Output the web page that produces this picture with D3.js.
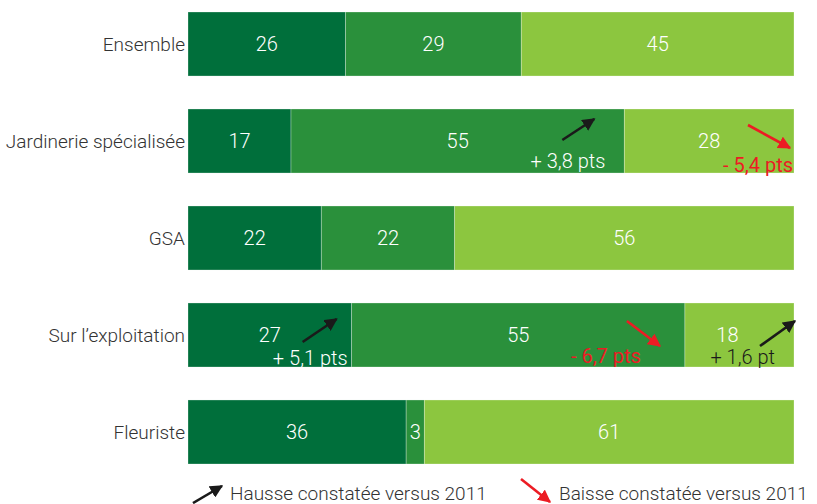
<!DOCTYPE html>
<html><head><meta charset="utf-8">
<script src="https://cdn.jsdelivr.net/npm/d3@7"></script>
<style>
body{margin:0;background:#fff;}
svg{display:block;font-family:Roboto,"Open Sans",sans-serif;font-weight:300;}
</style></head>
<body><svg id="c" width="817" height="504"></svg>
<script>
const categories = ["Ensemble","Jardinerie spécialisée","GSA","Sur l’exploitation","Fleuriste"];
const series1 = [26,17,22,27,36];
const series2 = [29,55,22,55,3];
const series3 = [45,28,56,18,61];
const seriesColors = ["#006F3B","#2A903B","#8CC63F"];
// annotations: category, segment index, text, direction (up/down)
const changes = [
  {cat:"Jardinerie spécialisée", seg:1, text:"+ 3,8 pts", dir:"up"},
  {cat:"Jardinerie spécialisée", seg:2, text:"- 5,4 pts", dir:"down"},
  {cat:"Sur l’exploitation", seg:0, text:"+ 5,1 pts", dir:"up"},
  {cat:"Sur l’exploitation", seg:1, text:"- 6,7 pts", dir:"down"},
  {cat:"Sur l’exploitation", seg:2, text:"+ 1,6 pt", dir:"up"}
];
const legendItems = [{text:"Hausse constatée versus 2011", dir:"up"},{text:"Baisse constatée versus 2011", dir:"down"}];

const svg = d3.select("#c");
const x = d3.scaleLinear().domain([0,100]).range([188,794]);
const y = d3.scaleBand().domain(categories).range([12,464]).paddingInner(0.34);

const defs = svg.append("defs");
[["up","#1a1a1a"],["down","#EC1C24"]].forEach(([id,col])=>{
  defs.append("marker").attr("id","ah-"+id).attr("viewBox","0 0 10 10").attr("refX",9).attr("refY",5)
    .attr("markerWidth",5).attr("markerHeight",5).attr("orient","auto").attr("markerUnits","strokeWidth")
    .append("path").attr("d","M0,0 L10,5 L0,10 z").attr("fill",col);
});
const dirColor = {up:"#1a1a1a", down:"#EC1C24"};

const rows = categories.map((c,i)=>{
  const vals=[series1[i],series2[i],series3[i]];
  let acc=0;
  return {cat:c, segs: vals.map((v,j)=>{const s={cat:c,j,v,x0:acc,x1:acc+v}; acc+=v; return s;})};
});

const g = svg.append("g");
rows.forEach(r=>{
  g.selectAll(null).data(r.segs).enter().append("rect")
    .attr("x",d=>x(d.x0)).attr("y",y(r.cat)).attr("width",d=>x(d.x1)-x(d.x0)).attr("height",y.bandwidth())
    .attr("fill",d=>seriesColors[d.j]).attr("stroke","#ffffff").attr("stroke-opacity",0.35).attr("stroke-width",0.8);
  const labelDx = {"Sur l’exploitation-2":-12};
  g.selectAll(null).data(r.segs).enter().append("text")
    .attr("x",d=>(x(d.x0)+x(d.x1))/2 + (labelDx[r.cat+"-"+d.j]||0)).attr("y",y(r.cat)+y.bandwidth()/2)
    .attr("dy","0.36em").attr("text-anchor","middle").attr("fill","#fff").attr("font-size",20)
    .text(d=>d.v);
});

// category labels
svg.append("g").selectAll("text").data(categories).enter().append("text")
  .attr("x",185).attr("y",d=>y(d)+y.bandwidth()/2).attr("dy","0.36em").attr("text-anchor","end")
  .attr("fill","#333").attr("font-size",19).text(d=>d);

// annotation layout offsets (relative to segment end / band top)
const annLayout = {
  "Jardinerie spécialisée-1":{tx:-19,ty:59,col:"#fff",a:[-62,31,-30,10]},
  "Jardinerie spécialisée-2":{tx:-1,ty:63,col:"#EC1C24",a:[-46,16,-4,39]},
  "Sur l’exploitation-0":{tx:-4,ty:62,col:"#fff",a:[-49,39,-15,16]},
  "Sur l’exploitation-1":{tx:-44,ty:60,col:"#EC1C24",a:[-58,18,-25,43]},
  "Sur l’exploitation-2":{tx:-19,ty:61,col:"#1a1a1a",a:[-34,43,1,18]}
};
const ann = svg.append("g");
changes.forEach(c=>{
  const i = categories.indexOf(c.cat);
  const seg = rows[i].segs[c.seg];
  const ex = x(seg.x1), top = y(c.cat);
  const L = annLayout[c.cat+"-"+c.seg];
  ann.append("line").attr("x1",ex+L.a[0]).attr("y1",top+L.a[1]).attr("x2",ex+L.a[2]).attr("y2",top+L.a[3])
    .attr("stroke",dirColor[c.dir]).attr("stroke-width",2.6).attr("marker-end","url(#ah-"+c.dir+")");
  ann.append("text").attr("x",ex+L.tx).attr("y",top+L.ty).attr("text-anchor","end")
    .attr("fill",L.col).attr("font-size",20).attr("font-weight",L.col==="#EC1C24"?400:300).text(c.text);
});

// legend
const lg = svg.append("g");
const legPos = [{ax:[193,503,222,486],tx:230},{ax:[521,479,550,502],tx:559}];
legendItems.forEach((l,k)=>{
  const p = legPos[k];
  lg.append("line").attr("x1",p.ax[0]).attr("y1",p.ax[1]).attr("x2",p.ax[2]).attr("y2",p.ax[3])
    .attr("stroke",dirColor[l.dir]).attr("stroke-width",2.6).attr("marker-end","url(#ah-"+l.dir+")");
  lg.append("text").attr("x",p.tx).attr("y",500).attr("fill","#333").attr("font-size",19).text(l.text);
});
</script></body></html>
